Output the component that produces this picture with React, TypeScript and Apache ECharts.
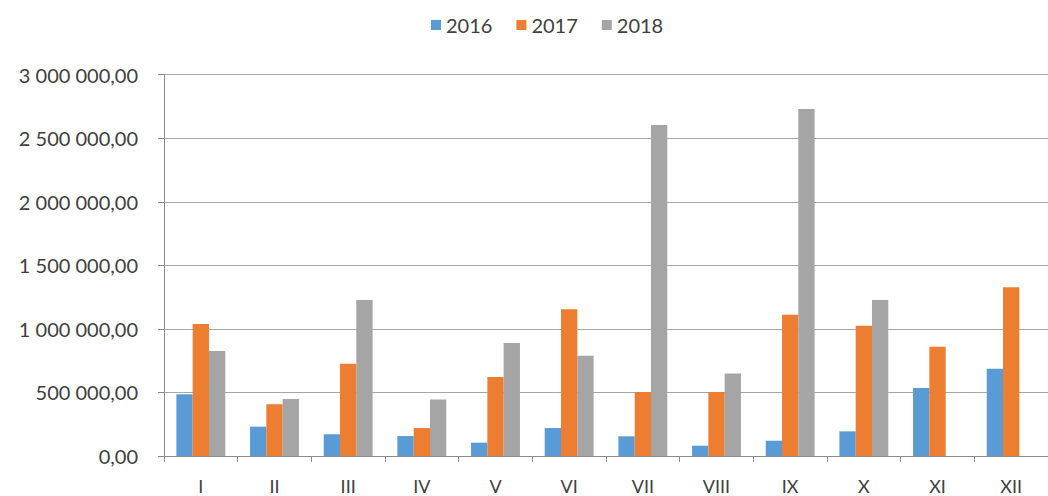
import React, { useEffect, useRef } from "react";
import * as echarts from "echarts";

const categories = ["I", "II", "III", "IV", "V", "VI", "VII", "VIII", "IX", "X", "XI", "XII"];
const seriesNames = ["2016", "2017", "2018"];
const values2016 = [485000, 231000, 171000, 157000, 105000, 220000, 155000, 81000, 120000, 194000, 535000, 687000];
const values2017 = [1039000, 407000, 726000, 220000, 622000, 1154000, 504000, 504000, 1112000, 1025000, 860000, 1327000];
const values2018 = [826000, 448000, 1227000, 445000, 889000, 789000, 2604000, 650000, 2730000, 1227000, null, null];
const colors = ["#5B9BD5", "#ED7D31", "#A5A5A5"];

function fmt(v: number): string {
  const s = Math.round(v).toString().replace(/\B(?=(\d{3})+(?!\d))/g, " ");
  return s + ",00";
}

export default function App() {
  const ref = useRef<HTMLDivElement>(null);
  useEffect(() => {
    if (!ref.current) return;
    const chart = echarts.init(ref.current, null, { renderer: "svg" });
    const font = "Lato, 'Noto Sans', sans-serif";
    const data = [values2016, values2017, values2018];
    chart.setOption({
      animation: false,
      backgroundColor: "#ffffff",
      textStyle: { fontFamily: font },
      legend: {
        top: 10,
        left: 426,
        itemWidth: 10,
        itemHeight: 10,
        itemGap: 24,
        textStyle: { fontSize: 20, color: "#404040", fontFamily: font },
        data: seriesNames,
        icon: "rect",
      },
      grid: { left: 164, right: -7, top: 74.7, bottom: 40, containLabel: false },
      xAxis: {
        type: "category",
        data: categories,
        boundaryGap: true,
        axisLine: { show: true, lineStyle: { color: "#8c8c8c", width: 1 } },
        axisTick: { show: true, length: 6, alignWithLabel: false, lineStyle: { color: "#8c8c8c" } },
        axisLabel: { fontSize: 18, lineHeight: 18, color: "#404040", margin: 21, fontFamily: font },
      },
      yAxis: {
        type: "value",
        min: 0,
        max: 3000000,
        interval: 500000,
        axisLine: { show: true, lineStyle: { color: "#8c8c8c", width: 1 } },
        axisTick: { show: true, length: 6, lineStyle: { color: "#8c8c8c" } },
        axisLabel: { fontSize: 20, color: "#404040", margin: 26, formatter: (v: number) => fmt(v), fontFamily: font },
        splitLine: { show: true, lineStyle: { color: "#a6a6a6", width: 1 } },
      },
      series: seriesNames.map((name, i) => ({
        name,
        type: "bar",
        data: data[i],
        barWidth: 16.3,
        barGap: "0%",
        itemStyle: { color: colors[i] },
      })),
    });
    return () => chart.dispose();
  }, []);
  return <div ref={ref} style={{ position: "fixed", left: 0, top: 0, width: 1048, height: 496 }} />;
}
